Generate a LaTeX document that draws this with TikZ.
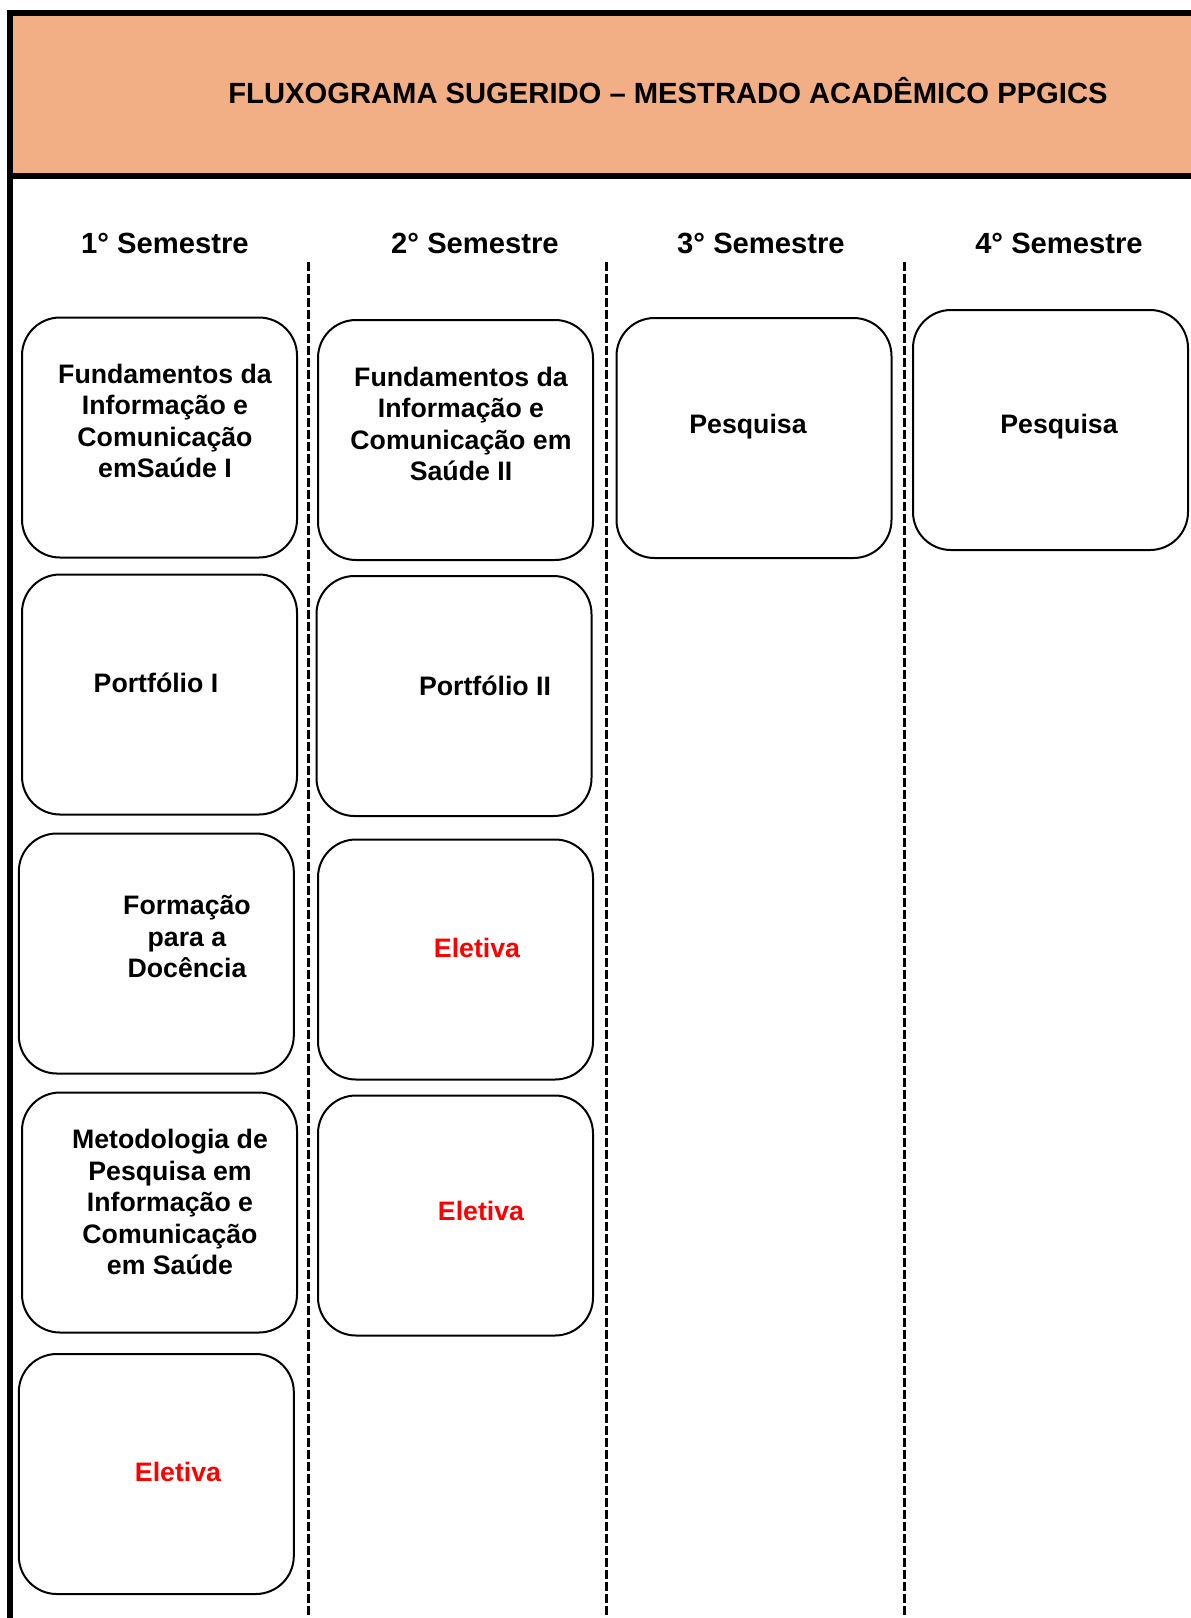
\documentclass[tikz,border=0pt]{standalone}
\usepackage{fontspec}
\setmainfont{Liberation Sans}
\definecolor{hdr}{HTML}{F2AE85}
\definecolor{elred}{HTML}{FF0000}
\begin{document}
\begin{tikzpicture}[x=1pt,y=-1pt,
  box/.style={draw, line width=2pt, rounded corners=38pt, minimum width=275pt, minimum height=240pt, inner sep=0pt},
  lbl/.style={font=\bfseries\fontsize{26.7}{31.5}\selectfont, align=center, inner sep=0pt},
  sem/.style={font=\bfseries\fontsize{29.2}{33}\selectfont, inner sep=0pt},
  ttl/.style={font=\bfseries\fontsize{29.2}{33}\selectfont, inner sep=0pt},
  red/.style={text=elred},
  divider/.style={line width=3pt, dash pattern=on 9pt off 3pt},
  frame/.style={line width=6pt}]
\useasboundingbox (0,0) rectangle (1191,1618);
% header
\fill[hdr] (10,13) rectangle (1191,176);
\draw[frame] (7,13) -- (1191,13);
\draw[frame] (10,176) -- (1191,176);
\draw[line width=5.3pt] (10,10) -- (10,1618);
\node[ttl] (title) at (668,91) {FLUXOGRAMA SUGERIDO – MESTRADO ACADÊMICO PPGICS};
% semester labels
\node[sem] (s1) at (165,243) {1° Semestre};
\node[sem] (s2) at (475,243) {2° Semestre};
\node[sem] (s3) at (761,243) {3° Semestre};
\node[sem] (s4) at (1059,243) {4° Semestre};
% dividers
\coordinate (d1t) at (308,262); \coordinate (d1b) at (308,1618);
\coordinate (d2t) at (606,262); \coordinate (d2b) at (606,1618);
\coordinate (d3t) at (904,262); \coordinate (d3b) at (904,1618);
\draw[divider] (d1t) -- (d1b);
\draw[divider] (d2t) -- (d2b);
\draw[divider] (d3t) -- (d3b);
% column 1
\node[box] (c1a) at (159.5,437.5) {};
\node[box] (c1b) at (159.5,694.5) {};
\node[box] (c1c) at (156.3,953.5) {};
\node[box] (c1d) at (159.5,1212.5) {};
\node[box] (c1e) at (156.3,1474) {};
\node[lbl] (t1a) at (165,421) {Fundamentos da\\Informação e\\Comunicação\\emSaúde I};
\node[lbl] (t1b) at (156,683) {Portfólio I};
\node[lbl] (t1c) at (187,936.5) {Formação\\para a\\Docência};
\node[lbl] (t1d) at (170,1202) {Metodologia de\\Pesquisa em\\Informação e\\Comunicação\\em Saúde};
\node[lbl,red] (t1e) at (178,1472) {Eletiva};
% column 2
\node[box] (c2a) at (455.5,440) {};
\node[box] (c2b) at (454,696) {};
\node[box] (c2c) at (455.5,959.5) {};
\node[box] (c2d) at (455.5,1215.5) {};
\node[lbl] (t2a) at (461,424) {Fundamentos da\\Informação e\\Comunicação em\\Saúde II};
\node[lbl] (t2b) at (485,686) {Portfólio II};
\node[lbl,red] (t2c) at (477,948) {Eletiva};
\node[lbl,red] (t2d) at (481,1211) {Eletiva};
% column 3 and 4
\node[box] (c3a) at (754,438) {};
\node[lbl] (t3a) at (748,427) {Pesquisa};
\node[box] (c4a) at (1050.5,430) {};
\node[lbl] (t4a) at (1059,427) {Pesquisa};
\end{tikzpicture}
\end{document}
